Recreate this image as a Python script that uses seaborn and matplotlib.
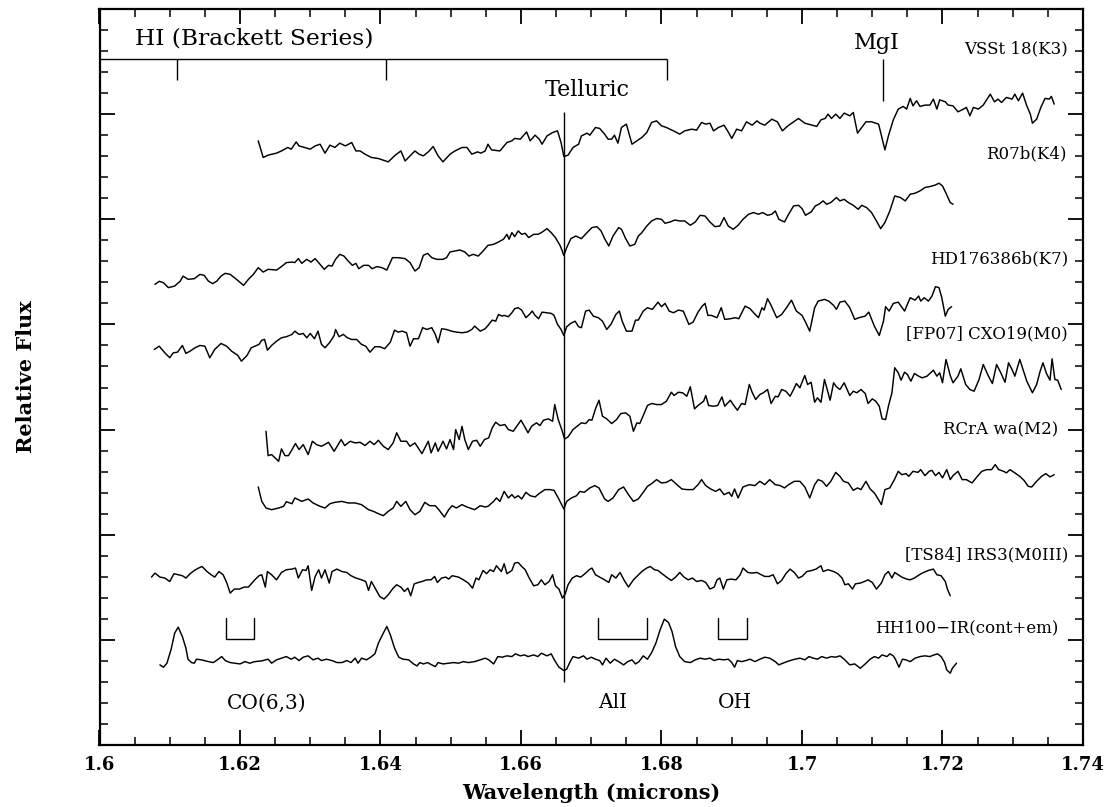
import matplotlib
matplotlib.use("Agg")
import matplotlib.pyplot as plt
import seaborn as sns
import pandas as pd
from matplotlib.ticker import MultipleLocator, FuncFormatter, NullFormatter

# ---------------- data (wavelength in microns, offset relative flux) ----------------
vsst18_wl = [1.6226,1.6233,1.6240,1.6252,1.6259,1.6268,1.6273,1.6280,1.6284,1.6292,
 1.6300,1.6307,1.6314,1.6321,1.6328,1.6335,1.6342,1.6350,1.6359,1.6365,
 1.6371,1.6378,1.6387,1.6397,1.6411,1.6421,1.6429,1.6435,1.6442,1.6449,
 1.6455,1.6461,1.6468,1.6475,1.6482,1.6489,1.6499,1.6506,1.6516,1.6523,
 1.6530,1.6538,1.6543,1.6549,1.6553,1.6558,1.6570,1.6580,1.6587,
 1.6591,1.6599,1.6603,1.6608,1.6613,1.6620,1.6626,1.6630,1.6637,1.6645,
 1.6652,1.6657,1.6661,1.6667,1.6674,1.6682,1.6686,1.6694,1.6698,1.6706,
 1.6712,1.6719,1.6724,1.6729,1.6733,1.6738,1.6743,1.6750,1.6758,1.6765,
 1.6772,1.6779,1.6786,1.6793,1.6800,1.6807,1.6817,1.6826,1.6833,1.6843,
 1.6850,1.6857,1.6863,1.6869,1.6874,1.6881,1.6889,1.6895,1.6900,1.6907,
 1.6914,1.6921,1.6929,1.6936,1.6940,1.6947,1.6957,1.6965,1.6972,1.6980,
 1.6988,1.6995,1.7004,1.7021,1.7027,1.7033,1.7037,1.7042,1.7048,1.7054,
 1.7060,1.7068,1.7073,1.7079,1.7085,1.7091,1.7099,1.7109,1.7112,1.7118,
 1.7123,1.7130,1.7137,1.7144,1.7149,1.7154,1.7158,1.7163,1.7168,1.7175,
 1.7182,1.7187,1.7192,1.7196,1.7204,1.7208,1.7215,1.7222,1.7230,1.7234,
 1.7239,1.7244,1.7251,1.7258,1.7268,1.7274,1.7279,1.7284,1.7291,1.7299,
 1.7303,1.7308,1.7314,1.7320,1.7325,1.7328,1.7334,1.7340,1.7346,1.7352,1.7355,1.7359]
vsst18_flux = [5.746,5.588,5.610,5.629,5.650,5.683,5.667,5.736,5.698,5.683,
 5.667,5.698,5.714,5.629,5.705,5.683,5.724,5.698,5.730,5.650,
 5.650,5.619,5.588,5.578,5.546,5.610,5.650,5.555,5.603,5.650,
 5.619,5.603,5.641,5.692,5.603,5.546,5.619,5.650,5.683,5.683,
 5.619,5.641,5.629,5.650,5.714,5.660,5.650,5.730,5.746,
 5.769,5.762,5.793,5.831,5.746,5.800,5.762,5.714,5.793,5.825,
 5.841,5.730,5.597,5.610,5.683,5.714,5.793,5.819,5.800,5.873,
 5.864,5.810,5.762,5.762,5.800,5.724,5.873,5.905,5.714,5.746,
 5.778,5.825,5.921,5.936,5.889,5.873,5.841,5.810,5.841,5.857,
 5.848,5.921,5.905,5.914,5.841,5.873,5.895,5.831,5.769,5.857,
 5.841,5.927,5.895,5.936,5.914,5.895,5.952,5.927,5.841,5.889,
 5.927,5.959,5.914,5.883,5.946,5.959,6.000,5.959,6.000,5.959,
 6.010,5.984,6.016,5.819,5.873,5.927,5.927,5.905,5.825,5.660,
 5.793,5.946,6.048,6.073,6.048,6.150,6.079,6.127,6.073,6.086,
 6.086,6.143,6.048,6.136,6.117,6.086,6.079,6.022,6.048,6.064,
 5.984,6.064,6.048,6.086,6.190,6.117,6.143,6.111,6.159,6.143,
 6.190,6.127,6.200,6.079,6.000,5.914,5.952,6.064,6.150,6.143,6.169,6.095]

r07b_wl = [1.6079,1.6085,1.6091,1.6098,1.6107,1.6115,1.6119,1.6126,1.6135,1.6143,
 1.6149,1.6155,1.6161,1.6167,1.6173,1.6179,1.6186,1.6192,1.6198,1.6205,
 1.6212,1.6219,1.6226,1.6233,1.6240,1.6252,1.6259,1.6266,1.6274,1.6278,
 1.6283,1.6288,1.6295,1.6301,1.6307,1.6314,1.6320,1.6326,1.6331,1.6336,
 1.6342,1.6348,1.6354,1.6360,1.6365,1.6369,1.6376,1.6383,1.6388,1.6395,
 1.6402,1.6409,1.6417,1.6425,1.6435,1.6442,1.6449,1.6455,1.6461,1.6467,
 1.6473,1.6480,1.6489,1.6494,1.6499,1.6506,1.6513,1.6520,1.6526,1.6532,
 1.6539,1.6546,1.6553,1.6561,1.6568,1.6575,1.6580,1.6583,1.6587,1.6591,
 1.6596,1.6601,1.6606,1.6611,1.6618,1.6624,1.6629,1.6637,1.6643,1.6649,
 1.6656,1.6661,1.6665,1.6671,1.6678,1.6686,1.6694,1.6701,1.6708,1.6714,
 1.6719,1.6725,1.6731,1.6739,1.6743,1.6749,1.6755,1.6762,1.6767,1.6772,
 1.6779,1.6786,1.6793,1.6800,1.6805,1.6812,1.6819,1.6826,1.6833,1.6841,
 1.6848,1.6855,1.6862,1.6869,1.6876,1.6883,1.6889,1.6895,1.6902,1.6909,
 1.6916,1.6924,1.6931,1.6938,1.6944,1.6951,1.6957,1.6962,1.6967,1.6975,
 1.6981,1.6988,1.6995,1.7000,1.7005,1.7013,1.7019,1.7024,1.7030,1.7035,
 1.7041,1.7049,1.7054,1.7060,1.7066,1.7073,1.7080,1.7085,1.7092,1.7099,
 1.7106,1.7112,1.7118,1.7125,1.7132,1.7140,1.7147,1.7154,1.7161,1.7168,
 1.7175,1.7182,1.7189,1.7195,1.7200,1.7205,1.7211,1.7215]
r07b_flux = [4.381,4.410,4.397,4.350,4.365,4.412,4.460,4.429,4.435,4.476,
 4.467,4.412,4.388,4.412,4.460,4.486,4.476,4.445,4.412,4.371,
 4.429,4.476,4.540,4.498,4.524,4.517,4.550,4.588,4.593,4.588,
 4.626,4.581,4.619,4.593,4.626,4.571,4.524,4.562,4.555,4.619,
 4.667,4.650,4.603,4.562,4.581,4.530,4.562,4.562,4.530,4.550,
 4.540,4.517,4.635,4.635,4.626,4.588,4.508,4.540,4.657,4.676,
 4.635,4.619,4.619,4.635,4.689,4.698,4.708,4.689,4.650,4.667,
 4.650,4.698,4.752,4.762,4.784,4.810,4.857,4.810,4.873,4.835,
 4.889,4.857,4.867,4.826,4.857,4.857,4.873,4.911,4.873,4.826,
 4.746,4.657,4.730,4.816,4.841,4.816,4.873,4.921,4.930,4.889,
 4.816,4.746,4.841,4.921,4.905,4.816,4.746,4.762,4.841,4.873,
 4.936,4.984,5.007,5.000,4.962,4.974,4.993,4.984,4.984,4.943,
 4.974,5.038,5.031,4.974,4.930,4.936,5.016,4.936,4.905,4.943,
 5.000,5.048,5.064,5.048,5.064,5.038,5.048,5.079,5.000,4.974,
 5.048,5.127,5.133,5.102,5.038,5.070,5.127,5.143,5.175,5.143,
 5.159,5.207,5.175,5.190,5.159,5.133,5.095,5.133,5.111,5.064,
 4.984,4.911,4.969,5.079,5.222,5.207,5.175,5.238,5.248,5.270,
 5.302,5.311,5.324,5.343,5.317,5.248,5.159,5.143]

hd176386b_wl = [1.6078,1.6085,1.6093,1.6100,1.6105,1.6111,1.6118,1.6123,1.6129,1.6136,
 1.6143,1.6150,1.6157,1.6164,1.6173,1.6181,1.6188,1.6197,1.6202,1.6210,
 1.6216,1.6221,1.6227,1.6231,1.6235,1.6239,1.6245,1.6252,1.6259,1.6266,
 1.6274,1.6278,1.6284,1.6290,1.6295,1.6300,1.6306,1.6311,1.6316,1.6321,
 1.6328,1.6334,1.6336,1.6341,1.6347,1.6353,1.6359,1.6366,1.6373,1.6379,
 1.6385,1.6392,1.6399,1.6406,1.6414,1.6420,1.6425,1.6431,1.6437,1.6442,
 1.6447,1.6454,1.6460,1.6466,1.6473,1.6478,1.6482,1.6487,1.6494,1.6501,
 1.6508,1.6516,1.6523,1.6530,1.6534,1.6542,1.6549,1.6553,1.6559,1.6564,
 1.6568,1.6573,1.6576,1.6582,1.6587,1.6591,1.6596,1.6601,1.6607,1.6612,
 1.6616,1.6620,1.6625,1.6630,1.6637,1.6643,1.6647,1.6652,1.6657,1.6661,
 1.6665,1.6671,1.6677,1.6682,1.6686,1.6692,1.6697,1.6703,1.6710,1.6716,
 1.6722,1.6728,1.6735,1.6740,1.6744,1.6750,1.6758,1.6763,1.6767,1.6774,
 1.6780,1.6787,1.6795,1.6800,1.6805,1.6811,1.6817,1.6824,1.6831,1.6839,
 1.6845,1.6852,1.6858,1.6862,1.6866,1.6871,1.6879,1.6885,1.6890,1.6898,
 1.6905,1.6910,1.6919,1.6926,1.6932,1.6938,1.6943,1.6946,1.6951,1.6956,
 1.6964,1.6971,1.6978,1.6985,1.6992,1.7000,1.7005,1.7011,1.7018,1.7023,
 1.7032,1.7038,1.7045,1.7049,1.7054,1.7061,1.7068,1.7075,1.7081,1.7090,
 1.7095,1.7103,1.7110,1.7116,1.7119,1.7124,1.7130,1.7137,1.7146,1.7154,
 1.7161,1.7166,1.7169,1.7174,1.7180,1.7185,1.7190,1.7195,1.7199,1.7204,
 1.7208,1.7213]
hd176386b_flux = [3.762,3.793,3.730,3.683,3.730,3.736,3.800,3.724,3.746,3.778,
 3.800,3.793,3.683,3.762,3.819,3.793,3.746,3.705,3.650,3.705,
 3.778,3.793,3.810,3.850,3.857,3.755,3.800,3.841,3.873,3.883,
 3.905,3.936,3.905,3.914,3.873,3.914,3.864,3.936,3.810,3.778,
 3.831,3.895,3.952,3.883,3.905,3.873,3.857,3.857,3.810,3.793,
 3.736,3.788,3.788,3.769,3.831,3.946,3.927,3.936,3.921,3.793,
 3.864,3.864,3.969,3.952,3.969,3.905,3.826,3.959,3.952,3.936,
 3.927,3.921,3.927,3.952,3.984,3.936,3.959,3.990,4.041,4.031,
 4.095,4.079,4.086,4.073,4.111,4.150,4.159,4.136,4.064,4.095,
 4.127,4.086,4.054,4.117,4.111,4.105,4.086,4.000,3.952,3.895,
 3.978,4.010,4.031,3.978,3.969,4.127,4.136,4.079,4.064,4.031,
 3.952,4.000,4.095,4.127,4.031,3.936,3.936,4.041,4.041,4.127,
 4.159,4.143,4.212,4.169,4.200,4.127,4.111,4.136,4.127,4.000,
 4.022,4.117,4.174,4.200,4.086,4.086,4.064,4.159,4.048,4.054,
 4.064,4.054,4.174,4.150,4.105,4.064,4.159,4.136,4.245,4.181,
 4.064,4.095,4.159,4.231,4.127,4.086,4.022,3.936,4.159,4.222,
 4.238,4.222,4.181,4.143,4.212,4.222,4.159,4.048,4.064,4.079,
 4.117,3.984,3.895,4.031,4.169,4.127,4.200,4.212,4.127,4.254,
 4.231,4.270,4.222,4.254,4.222,4.270,4.359,4.350,4.254,4.079,
 4.143,4.169]

cxo19_wl = [1.6237,1.6240,1.6245,1.6255,1.6259,1.6264,1.6269,1.6274,1.6279,1.6284,
 1.6290,1.6297,1.6303,1.6309,1.6316,1.6326,1.6334,1.6344,1.6349,1.6357,
 1.6364,1.6371,1.6378,1.6385,1.6391,1.6397,1.6404,1.6411,1.6418,1.6423,
 1.6429,1.6437,1.6442,1.6449,1.6459,1.6468,1.6472,1.6478,1.6482,1.6489,
 1.6494,1.6499,1.6504,1.6507,1.6512,1.6516,1.6520,1.6525,1.6531,1.6537,
 1.6542,1.6548,1.6554,1.6559,1.6564,1.6570,1.6577,1.6582,1.6589,1.6594,
 1.6600,1.6605,1.6610,1.6615,1.6622,1.6627,1.6632,1.6639,1.6645,1.6648,
 1.6653,1.6658,1.6662,1.6667,1.6674,1.6681,1.6686,1.6692,1.6697,1.6701,
 1.6706,1.6711,1.6716,1.6722,1.6729,1.6736,1.6742,1.6749,1.6755,1.6760,
 1.6765,1.6769,1.6774,1.6780,1.6786,1.6793,1.6800,1.6807,1.6814,1.6818,
 1.6824,1.6830,1.6836,1.6841,1.6847,1.6852,1.6860,1.6863,1.6867,1.6874,
 1.6880,1.6886,1.6890,1.6898,1.6902,1.6908,1.6914,1.6919,1.6925,1.6929,
 1.6934,1.6940,1.6945,1.6951,1.6956,1.6962,1.6966,1.6971,1.6977,1.6983,
 1.6988,1.6992,1.6997,1.7000,1.7004,1.7008,1.7013,1.7018,1.7022,1.7027,
 1.7032,1.7037,1.7040,1.7045,1.7049,1.7054,1.7060,1.7068,1.7073,1.7078,
 1.7084,1.7090,1.7094,1.7100,1.7105,1.7110,1.7114,1.7119,1.7123,1.7128,
 1.7132,1.7137,1.7141,1.7146,1.7150,1.7155,1.7160,1.7166,1.7171,1.7178,
 1.7182,1.7187,1.7192,1.7196,1.7200,1.7205,1.7211,1.7215,1.7222,1.7226,
 1.7233,1.7239,1.7245,1.7252,1.7258,1.7265,1.7271,1.7277,1.7283,1.7289,
 1.7294,1.7299,1.7303,1.7310,1.7315,1.7320,1.7328,1.7334,1.7339,1.7343,
 1.7348,1.7353,1.7356,1.7360,1.7364,1.7369]
cxo19_flux = [2.984,2.752,2.762,2.698,2.816,2.752,2.752,2.810,2.867,2.810,
 2.857,2.762,2.889,2.857,2.841,2.879,2.793,2.905,2.848,2.889,
 2.873,2.879,2.848,2.889,2.857,2.898,2.841,2.810,2.873,2.969,
 2.889,2.889,2.841,2.873,2.771,2.889,2.778,2.873,2.793,2.889,
 2.816,2.905,2.810,3.000,2.905,3.031,2.905,2.810,2.889,2.898,
 2.841,2.905,2.921,3.016,3.070,3.038,3.048,3.000,2.984,3.031,
 3.089,3.031,2.969,3.031,3.064,3.038,3.089,3.102,3.079,3.238,
 3.095,3.000,2.911,2.930,3.000,3.038,3.064,3.057,3.095,3.089,
 3.197,3.279,3.127,3.102,3.057,3.095,3.152,3.159,3.127,2.984,
 3.064,3.057,3.133,3.229,3.248,3.238,3.238,3.270,3.355,3.324,
 3.355,3.350,3.317,3.407,3.197,3.229,3.270,3.324,3.229,3.222,
 3.229,3.311,3.222,3.279,3.238,3.184,3.248,3.238,3.429,3.355,
 3.286,3.333,3.350,3.381,3.248,3.317,3.311,3.381,3.365,3.317,
 3.381,3.438,3.397,3.450,3.514,3.429,3.450,3.260,3.302,3.260,
 3.476,3.355,3.279,3.445,3.407,3.381,3.445,3.324,3.365,3.350,
 3.381,3.343,3.248,3.292,3.270,3.222,3.102,3.095,3.222,3.350,
 3.588,3.540,3.470,3.546,3.524,3.460,3.533,3.508,3.492,3.508,
 3.533,3.565,3.508,3.540,3.445,3.667,3.514,3.445,3.508,3.578,
 3.429,3.381,3.365,3.476,3.619,3.514,3.438,3.619,3.540,3.450,
 3.635,3.571,3.508,3.667,3.565,3.460,3.350,3.429,3.555,3.635,
 3.533,3.470,3.673,3.476,3.470,3.381]

rcra_wl = [1.6226,1.6231,1.6237,1.6245,1.6255,1.6262,1.6266,1.6274,1.6278,1.6288,
 1.6297,1.6304,1.6314,1.6321,1.6328,1.6335,1.6345,1.6354,1.6364,1.6373,
 1.6383,1.6390,1.6397,1.6404,1.6411,1.6418,1.6423,1.6429,1.6436,1.6442,
 1.6449,1.6456,1.6463,1.6470,1.6478,1.6483,1.6491,1.6497,1.6502,1.6508,
 1.6516,1.6523,1.6534,1.6542,1.6549,1.6553,1.6561,1.6565,1.6570,1.6576,
 1.6582,1.6587,1.6591,1.6596,1.6601,1.6607,1.6613,1.6620,1.6627,1.6634,
 1.6641,1.6647,1.6653,1.6661,1.6665,1.6672,1.6679,1.6684,1.6690,1.6698,
 1.6705,1.6711,1.6719,1.6724,1.6731,1.6739,1.6746,1.6753,1.6760,1.6767,
 1.6774,1.6780,1.6786,1.6793,1.6800,1.6807,1.6814,1.6822,1.6829,1.6836,
 1.6845,1.6852,1.6857,1.6863,1.6870,1.6877,1.6883,1.6889,1.6896,1.6900,
 1.6904,1.6909,1.6916,1.6925,1.6933,1.6940,1.6947,1.6954,1.6962,1.6969,
 1.6975,1.6981,1.6989,1.6997,1.7004,1.7011,1.7018,1.7023,1.7029,1.7035,
 1.7041,1.7048,1.7054,1.7059,1.7066,1.7073,1.7079,1.7084,1.7091,1.7097,
 1.7103,1.7109,1.7113,1.7118,1.7125,1.7132,1.7137,1.7142,1.7148,1.7152,
 1.7158,1.7165,1.7169,1.7175,1.7181,1.7185,1.7190,1.7195,1.7200,1.7206,
 1.7211,1.7215,1.7222,1.7228,1.7234,1.7242,1.7249,1.7256,1.7263,1.7270,
 1.7275,1.7280,1.7287,1.7291,1.7296,1.7303,1.7310,1.7316,1.7322,1.7327,
 1.7334,1.7341,1.7347,1.7353,1.7359]
rcra_flux = [2.454,2.317,2.254,2.238,2.254,2.270,2.314,2.295,2.350,2.317,
 2.340,2.302,2.270,2.254,2.295,2.308,2.317,2.302,2.302,2.286,
 2.238,2.222,2.200,2.181,2.222,2.254,2.317,2.270,2.317,2.238,
 2.190,2.222,2.308,2.276,2.276,2.238,2.168,2.238,2.276,2.254,
 2.286,2.264,2.238,2.276,2.264,2.270,2.317,2.350,2.317,2.412,
 2.350,2.381,2.350,2.371,2.340,2.403,2.371,2.359,2.397,2.429,
 2.429,2.422,2.350,2.245,2.317,2.350,2.371,2.412,2.403,2.445,
 2.467,2.445,2.340,2.317,2.350,2.429,2.454,2.381,2.317,2.340,
 2.403,2.460,2.486,2.524,2.492,2.498,2.524,2.476,2.435,2.429,
 2.429,2.476,2.524,2.467,2.435,2.412,2.435,2.381,2.403,2.365,
 2.435,2.350,2.454,2.476,2.467,2.508,2.476,2.524,2.476,2.467,
 2.445,2.476,2.508,2.508,2.454,2.350,2.476,2.524,2.508,2.460,
 2.508,2.593,2.555,2.508,2.492,2.422,2.445,2.429,2.508,2.435,
 2.397,2.333,2.286,2.429,2.445,2.530,2.603,2.571,2.581,2.555,
 2.603,2.593,2.619,2.562,2.603,2.612,2.562,2.593,2.540,2.619,
 2.524,2.562,2.603,2.524,2.524,2.492,2.550,2.603,2.619,2.619,
 2.667,2.619,2.603,2.588,2.619,2.588,2.555,2.517,2.460,2.454,
 2.508,2.555,2.581,2.550,2.571]

irs3_wl = [1.6074,1.6079,1.6086,1.6093,1.6100,1.6106,1.6112,1.6118,1.6123,1.6129,
 1.6135,1.6141,1.6146,1.6153,1.6159,1.6164,1.6170,1.6176,1.6181,1.6186,
 1.6192,1.6199,1.6206,1.6212,1.6217,1.6221,1.6227,1.6231,1.6236,1.6239,
 1.6245,1.6252,1.6259,1.6266,1.6274,1.6279,1.6283,1.6289,1.6294,1.6297,
 1.6302,1.6307,1.6312,1.6316,1.6321,1.6327,1.6331,1.6338,1.6345,1.6352,
 1.6358,1.6365,1.6373,1.6379,1.6383,1.6387,1.6393,1.6399,1.6405,1.6411,
 1.6418,1.6423,1.6429,1.6434,1.6439,1.6443,1.6448,1.6454,1.6459,1.6466,
 1.6472,1.6477,1.6481,1.6487,1.6493,1.6497,1.6502,1.6511,1.6518,1.6525,
 1.6531,1.6536,1.6540,1.6546,1.6551,1.6556,1.6561,1.6565,1.6572,1.6576,
 1.6580,1.6587,1.6591,1.6596,1.6601,1.6606,1.6611,1.6618,1.6624,1.6629,
 1.6634,1.6640,1.6645,1.6649,1.6654,1.6659,1.6663,1.6667,1.6673,1.6679,
 1.6685,1.6691,1.6697,1.6701,1.6706,1.6712,1.6719,1.6725,1.6729,1.6735,
 1.6741,1.6747,1.6753,1.6760,1.6766,1.6772,1.6779,1.6784,1.6790,1.6795,
 1.6801,1.6807,1.6814,1.6820,1.6826,1.6832,1.6838,1.6844,1.6850,1.6857,
 1.6863,1.6869,1.6875,1.6879,1.6883,1.6888,1.6893,1.6899,1.6906,1.6912,
 1.6916,1.6923,1.6929,1.6936,1.6942,1.6947,1.6953,1.6959,1.6965,1.6971,
 1.6977,1.6983,1.6989,1.6995,1.7000,1.7007,1.7014,1.7020,1.7027,1.7030,
 1.7037,1.7045,1.7051,1.7057,1.7061,1.7066,1.7072,1.7076,1.7083,1.7089,
 1.7094,1.7100,1.7106,1.7113,1.7118,1.7123,1.7128,1.7132,1.7137,1.7142,
 1.7149,1.7154,1.7160,1.7167,1.7173,1.7180,1.7187,1.7192,1.7198,1.7204,
 1.7207,1.7211]
irs3_flux = [1.597,1.635,1.597,1.588,1.555,1.629,1.619,1.610,1.588,1.629,
 1.660,1.683,1.698,1.650,1.619,1.597,1.650,1.619,1.546,1.445,
 1.483,1.483,1.502,1.502,1.540,1.571,1.610,1.619,1.502,1.650,
 1.619,1.571,1.641,1.667,1.673,1.683,1.588,1.667,1.660,1.705,
 1.470,1.603,1.667,1.588,1.667,1.540,1.650,1.673,1.650,1.641,
 1.610,1.588,1.571,1.555,1.470,1.555,1.483,1.412,1.388,1.429,
 1.492,1.524,1.502,1.460,1.492,1.419,1.533,1.546,1.555,1.571,
 1.571,1.603,1.546,1.588,1.597,1.578,1.610,1.597,1.571,1.540,
 1.492,1.588,1.571,1.660,1.629,1.667,1.650,1.705,1.650,1.724,
 1.629,1.660,1.730,1.736,1.698,1.667,1.597,1.514,1.524,1.571,
 1.524,1.555,1.619,1.514,1.483,1.397,1.438,1.524,1.588,1.610,
 1.597,1.629,1.667,1.683,1.619,1.597,1.571,1.546,1.619,1.588,
 1.641,1.565,1.502,1.571,1.610,1.650,1.683,1.698,1.667,1.660,
 1.629,1.597,1.565,1.597,1.641,1.597,1.571,1.588,1.555,1.565,
 1.546,1.483,1.502,1.571,1.588,1.483,1.571,1.578,1.571,1.619,
 1.683,1.641,1.635,1.641,1.619,1.603,1.603,1.619,1.533,1.565,
 1.629,1.673,1.641,1.588,1.603,1.650,1.660,1.673,1.705,1.650,
 1.667,1.650,1.629,1.588,1.524,1.533,1.483,1.533,1.540,1.555,
 1.571,1.546,1.483,1.540,1.619,1.650,1.588,1.641,1.619,1.597,
 1.578,1.571,1.588,1.619,1.641,1.660,1.673,1.619,1.610,1.555,
 1.483,1.419]

hh100_wl = [1.6086,1.6091,1.6096,1.6102,1.6107,1.6112,1.6118,1.6123,1.6126,1.6131,
 1.6135,1.6138,1.6145,1.6155,1.6162,1.6169,1.6174,1.6179,1.6186,1.6193,
 1.6200,1.6207,1.6214,1.6221,1.6231,1.6240,1.6245,1.6252,1.6259,1.6266,
 1.6273,1.6278,1.6284,1.6290,1.6297,1.6304,1.6311,1.6316,1.6323,1.6331,
 1.6338,1.6345,1.6352,1.6358,1.6364,1.6368,1.6373,1.6380,1.6386,1.6392,
 1.6397,1.6404,1.6409,1.6414,1.6420,1.6426,1.6432,1.6440,1.6447,1.6452,
 1.6456,1.6461,1.6467,1.6473,1.6478,1.6482,1.6489,1.6497,1.6504,1.6511,
 1.6518,1.6525,1.6534,1.6542,1.6549,1.6554,1.6561,1.6567,1.6573,1.6580,
 1.6587,1.6592,1.6599,1.6605,1.6610,1.6618,1.6624,1.6629,1.6637,1.6643,
 1.6648,1.6654,1.6661,1.6665,1.6670,1.6674,1.6682,1.6689,1.6694,1.6700,
 1.6706,1.6712,1.6716,1.6721,1.6727,1.6733,1.6739,1.6746,1.6752,1.6758,
 1.6763,1.6768,1.6774,1.6780,1.6786,1.6792,1.6798,1.6804,1.6810,1.6815,
 1.6820,1.6826,1.6833,1.6841,1.6848,1.6855,1.6862,1.6869,1.6875,1.6881,
 1.6889,1.6895,1.6900,1.6904,1.6908,1.6914,1.6920,1.6926,1.6933,1.6940,
 1.6947,1.6954,1.6962,1.6967,1.6975,1.6983,1.6990,1.6997,1.7004,1.7010,
 1.7016,1.7022,1.7028,1.7035,1.7042,1.7048,1.7054,1.7060,1.7068,1.7075,
 1.7083,1.7090,1.7097,1.7103,1.7109,1.7114,1.7121,1.7125,1.7130,1.7133,
 1.7138,1.7143,1.7148,1.7154,1.7161,1.7168,1.7175,1.7182,1.7188,1.7193,
 1.7198,1.7203,1.7206,1.7211,1.7214,1.7220]
hh100_flux = [0.762,0.740,0.778,0.911,1.064,1.121,1.031,0.921,0.816,0.784,
 0.778,0.816,0.810,0.793,0.784,0.816,0.841,0.803,0.784,0.778,
 0.771,0.793,0.778,0.793,0.800,0.816,0.778,0.810,0.826,0.841,
 0.816,0.835,0.803,0.835,0.848,0.810,0.826,0.803,0.816,0.803,
 0.784,0.784,0.803,0.784,0.826,0.778,0.826,0.810,0.835,0.867,
 0.969,1.064,1.127,1.048,0.921,0.835,0.816,0.810,0.771,0.752,
 0.784,0.771,0.784,0.762,0.746,0.784,0.771,0.778,0.784,0.778,
 0.793,0.784,0.793,0.810,0.826,0.810,0.771,0.841,0.835,0.848,
 0.841,0.867,0.848,0.857,0.841,0.857,0.841,0.873,0.848,0.867,
 0.803,0.740,0.708,0.721,0.793,0.841,0.826,0.848,0.816,0.835,
 0.816,0.803,0.762,0.826,0.778,0.816,0.793,0.762,0.793,0.810,
 0.771,0.793,0.848,0.816,0.879,0.969,1.095,1.197,1.165,1.079,
 0.936,0.841,0.793,0.784,0.810,0.826,0.816,0.826,0.803,0.816,
 0.810,0.816,0.784,0.740,0.803,0.793,0.803,0.816,0.793,0.816,
 0.835,0.826,0.793,0.762,0.784,0.803,0.816,0.826,0.810,0.841,
 0.826,0.816,0.841,0.826,0.841,0.835,0.848,0.816,0.762,0.771,
 0.730,0.771,0.816,0.841,0.826,0.857,0.841,0.867,0.848,0.816,
 0.740,0.816,0.810,0.793,0.826,0.841,0.848,0.841,0.857,0.867,
 0.841,0.784,0.714,0.683,0.730,0.778]

star_labels = ["VSSt 18(K3)", "R07b(K4)", "HD176386b(K7)", "[FP07] CXO19(M0)",
               "RCrA wa(M2)", "[TS84] IRS3(M0III)", "HH100\u2212IR(cont+em)"]

# line identifications (microns)
brackett_lines = [1.6110, 1.6408, 1.6808]
telluric_line = 1.6661
mgi_line = 1.7116
co_band = [1.6180, 1.6220]
ali_band = [1.6710, 1.6780]
oh_band = [1.6881, 1.6921]

x_ticks = [1.60, 1.62, 1.64, 1.66, 1.68, 1.70, 1.72, 1.74]

# ---------------- styling ----------------
sns.set_style("ticks")
plt.rcParams['font.family'] = ['DejaVu Serif']
plt.rcParams['text.color'] = 'black'
plt.rcParams['axes.labelcolor'] = 'black'
plt.rcParams['xtick.color'] = 'black'
plt.rcParams['ytick.color'] = 'black'
plt.rcParams['axes.edgecolor'] = 'black'

W, H = 1111, 807
fig = plt.figure(figsize=(W / 100, H / 100), dpi=100)
ax = fig.add_axes([99.5 / W, 62 / H, (1083 - 99.5) / W, (745 - 9) / H])

spectra = [(vsst18_wl, vsst18_flux), (r07b_wl, r07b_flux), (hd176386b_wl, hd176386b_flux),
           (cxo19_wl, cxo19_flux), (rcra_wl, rcra_flux), (irs3_wl, irs3_flux),
           (hh100_wl, hh100_flux)]

for name, (wl, fl) in zip(star_labels, spectra):
    n = min(len(wl), len(fl))
    df = pd.DataFrame({"wavelength": wl[:n], "flux": fl[:n]})
    sns.lineplot(data=df, x="wavelength", y="flux", ax=ax, color="black",
                 lw=1.05, estimator=None, sort=False, legend=False)

# right-hand labels (positions in data coords)
label_pos = [(1.7378, 6.62), (1.7377, 5.62), (1.7379, 4.62), (1.7379, 3.91),
             (1.7365, 3.00), (1.7379, 1.81), (1.7365, 1.11)]
for txt, (lx, ly) in zip(star_labels, label_pos):
    ax.text(lx, ly, txt, ha="right", va="center", fontsize=12, color="black")

lk = dict(color="black", lw=1.0)
# Brackett series
ax.hlines(6.524, 1.600, brackett_lines[-1], **lk)
ax.vlines(brackett_lines, 6.324, 6.524, **lk)
ax.text(1.6051, 6.72, "HI (Brackett Series)", ha="left", va="center", fontsize=16.8)
# MgI
ax.vlines(mgi_line, 6.121, 6.524, **lk)
ax.text(1.7106, 6.68, "MgI", ha="center", va="center", fontsize=16)
# Telluric
ax.vlines(telluric_line, 0.603, 6.02, **lk)
ax.text(1.6694, 6.232, "Telluric", ha="center", va="center", fontsize=16)
# brackets
for band in (co_band, ali_band, oh_band):
    ax.plot([band[0], band[0], band[1], band[1]], [1.21, 1.01, 1.01, 1.21], **lk)
ax.text(1.6238, 0.40, "CO(6,3)", ha="center", va="center", fontsize=14.5)
ax.text(1.6730, 0.40, "AlI", ha="center", va="center", fontsize=14.5)
ax.text(1.6904, 0.40, "OH", ha="center", va="center", fontsize=14.5)

# axes
ax.set_xlim(1.60, 1.74)
ax.set_ylim(0, 7)
ax.set_xticks(x_ticks)
ax.xaxis.set_minor_locator(MultipleLocator(0.005))
ax.yaxis.set_major_locator(MultipleLocator(1))
ax.yaxis.set_minor_locator(MultipleLocator(0.2))
ax.xaxis.set_major_formatter(FuncFormatter(lambda v, p: f"{v:g}"))
ax.yaxis.set_major_formatter(NullFormatter())
ax.tick_params(which="both", direction="in", top=True, right=True, color="black",
               labelcolor="black")
ax.tick_params(which="major", length=11, width=1.3, labelsize=13, pad=8)
ax.tick_params(which="minor", length=5.5, width=1.1)
for lab in ax.get_xticklabels():
    lab.set_fontweight("bold")
for s in ax.spines.values():
    s.set_linewidth(1.6)
    s.set_color("black")

ax.set_xlabel("Wavelength (microns)", fontsize=15, fontweight="bold", color="black")
ax.set_ylabel("Relative Flux", fontsize=15, fontweight="bold", color="black")
ax.xaxis.set_label_coords(0.5, -(793 - 745) / 736)
ax.xaxis.label.set_va("center")
ax.yaxis.set_label_coords((26 - 99.5) / 983.5, 0.5)
ax.yaxis.label.set_va("center")

fig.savefig("out.png", dpi=100)
